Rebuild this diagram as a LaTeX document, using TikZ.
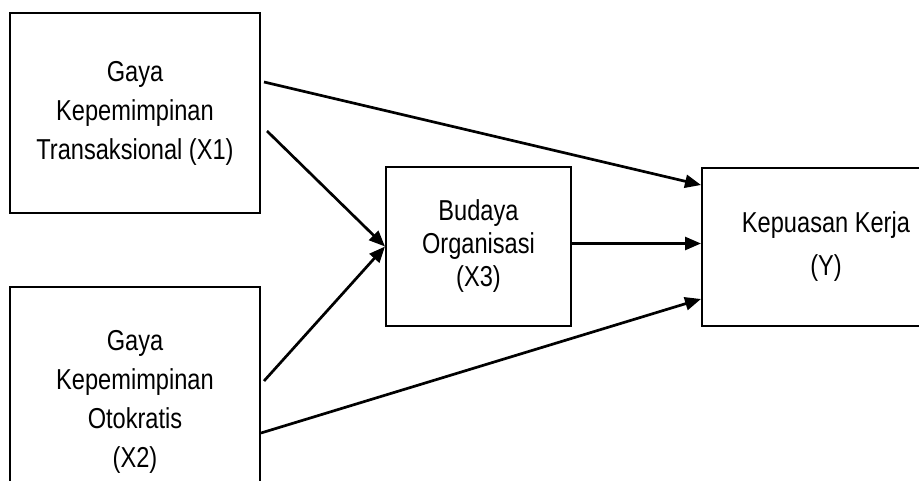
\documentclass[tikz,border=0pt]{standalone}
\usepackage{fontspec}
\setmainfont{Liberation Sans}[FakeStretch=0.82]
\usetikzlibrary{arrows.meta,positioning}

\begin{document}
\begin{tikzpicture}[x=1pt,y=1pt,line width=2.7pt,-{Triangle[length=16pt,width=13pt]}]
  \tikzstyle{var}=[draw,line width=2pt,align=center,inner sep=0pt,font=\fontsize{28.8}{39}\selectfont]
  \useasboundingbox (0,0) rectangle (919,480);
  \clip (0,0) rectangle (919,480);
  \node[var,minimum width=250pt,minimum height=200pt] (X1) at (135,367) {Gaya\\Kepemimpinan\\Transaksional (X1)};
  \node[var,minimum width=250pt,minimum height=230pt] (X2) at (135,78) {Gaya\\Kepemimpinan\\Otokratis\\(X2)};
  \node[var,minimum width=185pt,minimum height=159pt,font=\fontsize{28.8}{33}\selectfont] (X3) at (478.5,233.5) {Budaya\\Organisasi\\(X3)};
  \node[var,minimum width=248pt,minimum height=158pt,font=\fontsize{28.8}{43}\selectfont] (Y) at (826,233) {Kepuasan Kerja\\(Y)};
  \draw ([xshift=3pt,yshift=31pt]X1.east) -- ([yshift=62pt]Y.west);
  \draw ([xshift=6pt,yshift=-18pt]X1.east) -- (X3.west);
  \draw ([xshift=3pt,yshift=21pt]X2.east) -- (X3.west);
  \draw ([yshift=-31pt]X2.east) -- ([yshift=-52pt]Y.west);
  \draw ([yshift=3pt]X3.east) -- ([yshift=3pt]X3.east -| Y.west);
\end{tikzpicture}
\end{document}
